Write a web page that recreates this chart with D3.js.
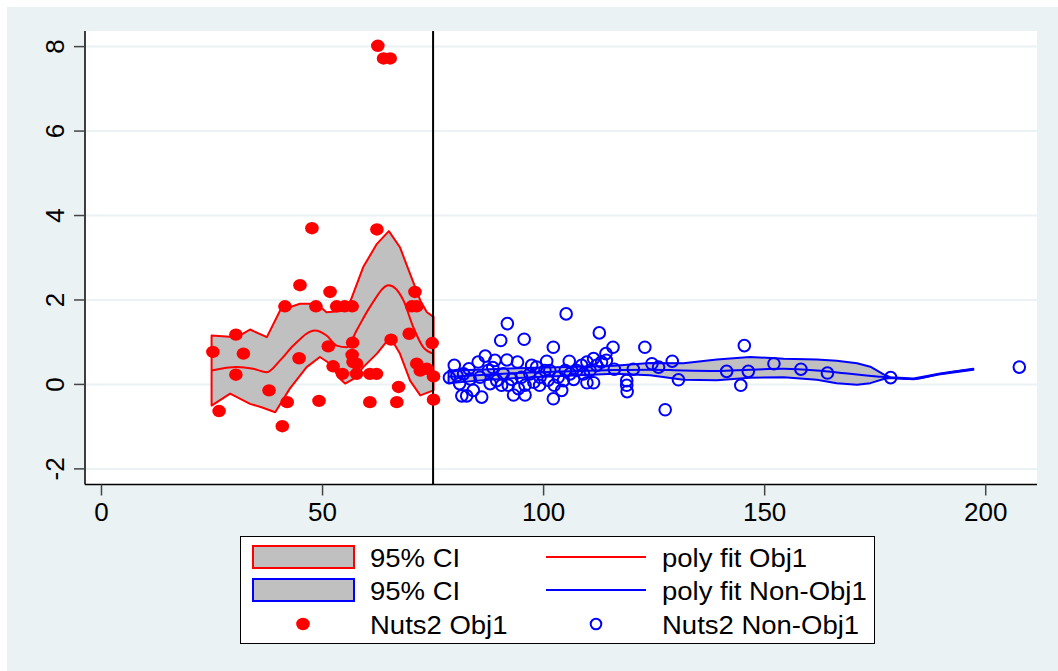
<!DOCTYPE html>
<html>
<head>
<meta charset="utf-8">
<script src="https://cdn.jsdelivr.net/npm/d3@7.9.0/dist/d3.min.js"></script>
<style>
  body { margin: 0; background: #fff; }
  text { font-family: "Liberation Sans", Arial, sans-serif; fill: #000; }
</style>
</head>
<body>
<svg id="chart" width="1058" height="671"></svg>
<script>
// ---- data ----
const xTicks = [0, 50, 100, 150, 200];
const yTicks = [-2, 0, 2, 4, 6, 8];
const cutoff = 75;

// Obj1 regions (filled red dots)
const redX = [62.5,63.8,65.3,47.6,62.3,44.9,51.7,41.5,48.5,53.2,55.0,56.7,70.9,70.2,71.3,30.4,25.2,32.1,30.4,37.9,26.6,42.0,40.9,49.2,44.7,51.3,56.8,52.4,54.5,56.7,56.9,57.7,57.7,60.7,62.2,60.7,65.5,69.6,67.2,66.8,71.3,72.1,73.6,75.1,74.8,75.1];
const redY = [8.02,7.72,7.72,3.70,3.67,2.35,2.19,1.85,1.85,1.85,1.85,1.85,2.19,1.85,1.85,1.18,0.77,0.73,0.23,-0.14,-0.63,-0.42,-0.99,-0.39,0.62,0.90,0.99,0.43,0.25,0.70,0.53,0.49,0.25,0.25,0.25,-0.42,1.06,1.20,-0.06,-0.42,0.49,0.33,0.37,0.19,0.98,-0.36];

// red poly fit + CI
const redUpX = [24.9,30.6,33.6,37.4,40.4,44.9,48.7,50.9,55.5,59.2,62.3,65.0,67.5,69.8,72.1,73.6,75.1];
const redUpY = [1.16,1.12,1.30,1.12,1.75,1.91,1.91,1.71,1.75,2.78,3.33,3.63,3.25,2.62,1.99,1.71,1.60];
const redLoX = [24.9,29.1,33.6,36.2,39.3,42.6,46.4,49.4,51.7,54.0,55.1,57.0,59.2,62.3,65.3,67.5,69.8,72.1,75.1];
const redLoY = [-0.50,-0.22,-0.46,-0.54,-0.66,-0.10,0.41,0.65,0.49,0.13,0.02,0.13,0.41,0.73,1.12,0.73,0.09,-0.26,-0.14];
const redFitX = [24.9,30.6,34.3,37.4,40.4,43.4,48.3,50.9,53.2,55.5,57.7,60.7,65.0,68.3,70.5,72.8,75.1];
const redFitY = [0.33,0.41,0.37,0.29,0.57,0.92,1.28,1.16,0.92,0.88,1.28,1.83,2.35,1.99,1.36,0.88,0.73];

// Non-Obj1 regions (hollow blue circles)
const blueX = [105.1,91.8,90.3,95.6,112.6,102.2,115.7,122.9,86.8,79.8,78.7,83.1,85.2,89.0,91.7,94.1,97.3,100.7,105.8,109.8,111.3,114.1,114.2,116.0,120.3,124.5,126.0,129.1,130.5,118.8,118.8,118.9,109.8,111.3,102.2,104.1,99.1,95.8,93.2,95.8,86.0,81.5,82.6,84.1,81.0,80.4,81.9,83.4,85.6,87.5,87.9,89.4,90.9,90.5,92.0,94.3,95.0,96.9,98.4,99.2,100.3,101.4,102.4,103.3,104.5,104.9,106.0,107.5,108.6,109.0,110.5,112.0,113.1,127.5,145.4,141.4,146.3,144.6,152.1,158.2,164.2,178.5,207.6,88.5,92.8,97.8,101.0,106.8];
const blueY = [1.67,1.44,1.04,1.07,1.22,0.88,0.88,0.88,0.67,0.45,0.16,0.37,0.53,0.57,0.58,0.53,0.45,0.55,0.55,0.53,0.61,0.73,0.57,0.36,0.36,0.49,0.41,0.55,0.11,0.09,-0.02,-0.17,0.04,0.04,-0.34,-0.14,-0.02,-0.02,-0.25,-0.25,-0.30,-0.27,-0.27,-0.14,0.02,0.21,0.25,0.13,0.17,0.33,0.02,0.09,0.25,-0.02,-0.02,-0.10,0.17,0.25,0.41,0.17,0.33,0.33,-0.02,0.17,0.09,0.33,0.25,0.33,0.45,0.25,0.33,0.45,0.53,-0.60,0.92,0.31,0.31,-0.02,0.49,0.36,0.27,0.16,0.41,0.40,0.12,0.05,0.10,0.12];

// blue poly fit + CI
const blueBandX = [78.5,85,92,100,108,116,124.1,131.6,139.2,146.7,154.3,161.8,166.3,170.9,173.9,176.9,178.4,183.7,189.7,197.2];
const blueUpY = [0.33,0.35,0.38,0.40,0.42,0.44,0.51,0.50,0.59,0.65,0.61,0.59,0.56,0.50,0.42,0.24,0.17,0.14,0.26,0.37];
const blueLoY = [0.03,0.09,0.14,0.18,0.22,0.25,0.22,0.11,0.10,0.16,0.17,0.11,0.03,-0.01,0.03,0.13,0.15,0.12,0.24,0.35];
const blueFitX = [78.5,85,92,100,108,116,124.1,131.6,139.2,146.7,154.3,161.8,169.3,175.4,178.4,183.7,189.7,197.2];
const blueFitY = [0.18,0.22,0.26,0.29,0.32,0.34,0.35,0.33,0.32,0.35,0.37,0.33,0.25,0.19,0.16,0.13,0.25,0.36];

const legendLabels = ['95% CI', 'poly fit Obj1', '95% CI', 'poly fit Non-Obj1', 'Nuts2 Obj1', 'Nuts2 Non-Obj1'];

// ---- layout ----
const svg = d3.select('#chart');
const plot = { left: 85, right: 1037, top: 31, bottom: 484.5 };
const RED = '#ff0000', BLUE = '#0000ff', BAND = '#c0c0c0', BG = '#eaf2f3';

const x = d3.scaleLinear().domain([-3.73, 211.6]).range([plot.left, plot.right]);
const y = d3.scaleLinear().domain([-2.37, 8.37]).range([plot.bottom, plot.top]);

// background panel
svg.append('rect').attr('x', 7).attr('y', 7).attr('width', 1051).attr('height', 664).attr('fill', BG);
svg.append('rect').attr('x', plot.left).attr('y', plot.top)
  .attr('width', plot.right - plot.left).attr('height', plot.bottom - plot.top).attr('fill', '#fff');

// grid
svg.append('g').selectAll('line').data(yTicks).join('line')
  .attr('x1', plot.left).attr('x2', plot.right)
  .attr('y1', d => y(d)).attr('y2', d => y(d))
  .attr('stroke', BG).attr('stroke-width', 2);

const zip = (xs, ys) => xs.map((v, i) => [v, ys[i]]);
const line = d3.line().x(d => x(d[0])).y(d => y(d[1])).curve(d3.curveMonotoneX);

function band(xu, yu, xl, yl, col) {
  const up = zip(xu, yu), lo = zip(xl, yl).reverse();
  const pts = up.concat(lo);
  svg.append('path')
    .attr('d', d3.line().x(d => x(d[0])).y(d => y(d[1])).curve(d3.curveLinearClosed)(pts))
    .attr('fill', BAND).attr('stroke', col).attr('stroke-width', 2).attr('stroke-linejoin', 'round');
}

band(redUpX, redUpY, redLoX, redLoY, RED);
band(blueBandX, blueUpY, blueBandX, blueLoY, BLUE);

svg.append('path').attr('d', line(zip(redFitX, redFitY)))
  .attr('fill', 'none').attr('stroke', RED).attr('stroke-width', 2);
svg.append('path').attr('d', line(zip(blueFitX, blueFitY)))
  .attr('fill', 'none').attr('stroke', BLUE).attr('stroke-width', 2);

// cutoff line
svg.append('line').attr('x1', x(cutoff)).attr('x2', x(cutoff))
  .attr('y1', plot.top).attr('y2', plot.bottom)
  .attr('stroke', '#000').attr('stroke-width', 2);

// points
svg.append('g').selectAll('ellipse').data(zip(redX, redY)).join('ellipse')
  .attr('cx', d => x(d[0])).attr('cy', d => y(d[1]))
  .attr('rx', 6.8).attr('ry', 6.2).attr('fill', RED);

svg.append('g').selectAll('circle').data(zip(blueX, blueY)).join('circle')
  .attr('cx', d => x(d[0])).attr('cy', d => y(d[1]))
  .attr('r', 5.8).attr('fill', 'none').attr('stroke', BLUE).attr('stroke-width', 2);

// axes
const axes = svg.append('g');
axes.append('line').attr('x1', plot.left).attr('x2', plot.left)
  .attr('y1', plot.top).attr('y2', plot.bottom).attr('stroke', '#000').attr('stroke-width', 1.5);
axes.append('line').attr('x1', plot.left).attr('x2', plot.right)
  .attr('y1', plot.bottom).attr('y2', plot.bottom).attr('stroke', '#000').attr('stroke-width', 1.5);

axes.selectAll('.yt').data(yTicks).join('line')
  .attr('x1', plot.left - 11).attr('x2', plot.left)
  .attr('y1', d => y(d)).attr('y2', d => y(d)).attr('stroke', '#444').attr('stroke-width', 1.5);
axes.selectAll('.yl').data(yTicks).join('text')
  .attr('transform', d => `translate(64,${y(d)}) rotate(-90)`)
  .attr('text-anchor', 'middle').attr('font-size', 26)
  .text(d => d);

axes.selectAll('.xt').data(xTicks).join('line')
  .attr('x1', d => x(d)).attr('x2', d => x(d))
  .attr('y1', plot.bottom).attr('y2', plot.bottom + 11).attr('stroke', '#444').attr('stroke-width', 1.5);
axes.selectAll('.xl').data(xTicks).join('text')
  .attr('x', d => x(d)).attr('y', 521)
  .attr('text-anchor', 'middle').attr('font-size', 26)
  .text(d => d);

// legend
const lg = svg.append('g');
lg.append('rect').attr('x', 240.5).attr('y', 536.5).attr('width', 634).attr('height', 107)
  .attr('fill', '#fff').attr('stroke', '#000').attr('stroke-width', 1);

const rows = [557, 590, 624];
const col1 = 253, col2 = 546;
lg.append('rect').attr('x', col1).attr('y', rows[0] - 11).attr('width', 101).attr('height', 22)
  .attr('fill', BAND).attr('stroke', RED).attr('stroke-width', 2);
lg.append('rect').attr('x', col1).attr('y', rows[1] - 11).attr('width', 101).attr('height', 22)
  .attr('fill', BAND).attr('stroke', BLUE).attr('stroke-width', 2);
lg.append('line').attr('x1', col2).attr('x2', col2 + 100).attr('y1', rows[0]).attr('y2', rows[0])
  .attr('stroke', RED).attr('stroke-width', 2);
lg.append('line').attr('x1', col2).attr('x2', col2 + 100).attr('y1', rows[1]).attr('y2', rows[1])
  .attr('stroke', BLUE).attr('stroke-width', 2);
lg.append('ellipse').attr('cx', 303).attr('cy', rows[2]).attr('rx', 6.8).attr('ry', 6.2).attr('fill', RED);
lg.append('circle').attr('cx', 596).attr('cy', rows[2]).attr('r', 5.3)
  .attr('fill', 'none').attr('stroke', BLUE).attr('stroke-width', 2);

const labelPos = [[370, rows[0]], [662, rows[0]], [370, rows[1]], [662, rows[1]], [370, rows[2]], [662, rows[2]]];
lg.selectAll('.lt').data(legendLabels).join('text')
  .attr('transform', (d, i) => `translate(${labelPos[i][0]},${labelPos[i][1] + 10}) scale(1.1,1)`)
  .attr('font-size', 25)
  .text(d => d);
</script>
</body>
</html>
